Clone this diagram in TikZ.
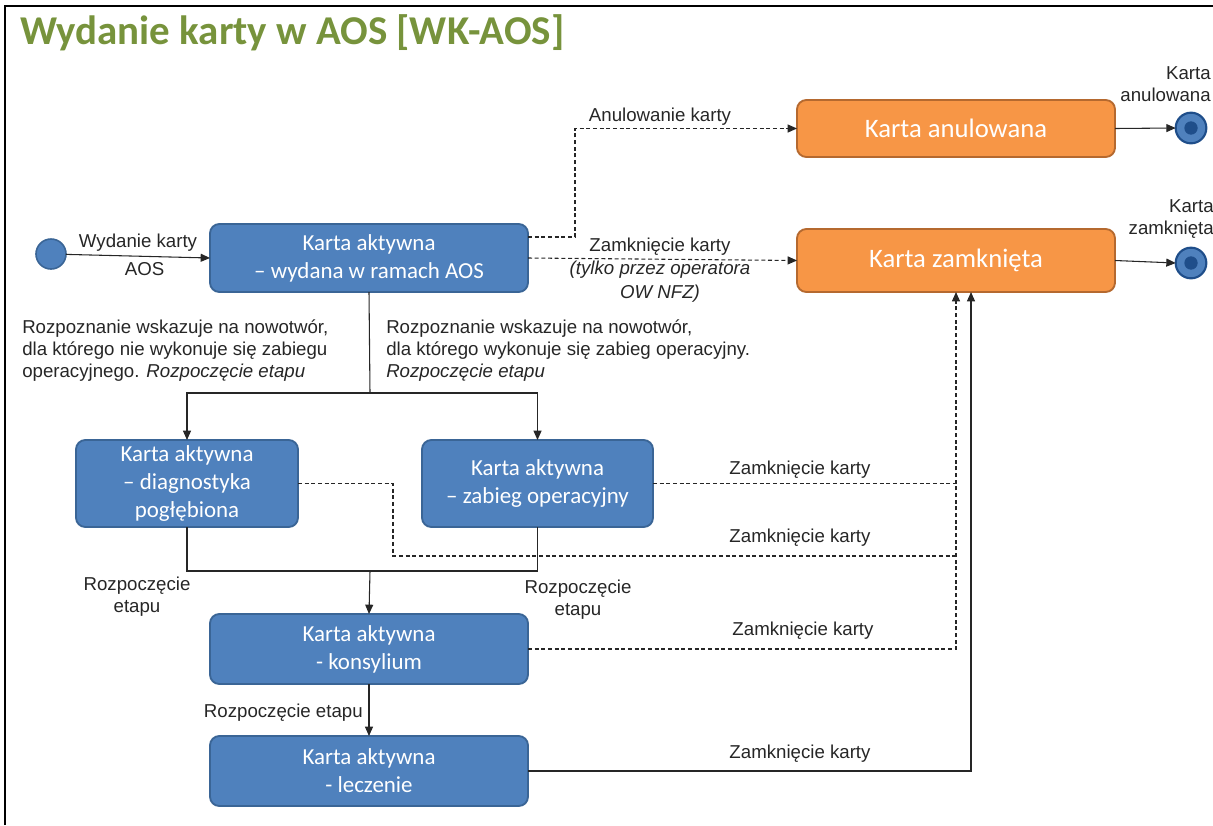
\documentclass[tikz,border=0pt]{standalone}
\usepackage{fontspec}
\setmainfont{Liberation Sans}
\newfontfamily\boxfont{Carlito}
\usetikzlibrary{calc,arrows.meta}
\definecolor{bfill}{HTML}{4F81BD}
\definecolor{bdraw}{HTML}{3A6596}
\definecolor{ofill}{HTML}{F79646}
\definecolor{odraw}{HTML}{B5692F}
\definecolor{ttl}{HTML}{77933C}
\definecolor{ln}{HTML}{262626}
\definecolor{enddark}{HTML}{1F4E8A}
\tikzset{
  bluebox/.style={rounded corners=7pt, fill=bfill, draw=bdraw, line width=1.4pt,
    text=white, font=\boxfont\fontsize{17.2}{21}\selectfont, align=center,
    minimum width=238.5pt, outer sep=0pt, inner sep=0pt},
  orangebox/.style={bluebox, fill=ofill, draw=odraw, font=\boxfont\fontsize{20}{24}\selectfont},
  lbl/.style={font=\fontsize{14}{16.5}\selectfont, text=black!85, inner sep=0pt},
  conn/.style={draw=ln, line width=0.8pt},
  arr/.style={conn, -{Triangle[length=7pt,width=6pt]}},
  dashconn/.style={conn, dash pattern=on 3pt off 2pt},
  dasharr/.style={arr, dash pattern=on 3pt off 2pt},
  startc/.style={circle, fill=bfill, draw=bdraw, line width=1.2pt, minimum size=22.5pt, inner sep=0pt, outer sep=0pt},
  endc/.style={circle, fill=bfill, draw=enddark, line width=1.6pt, minimum size=23pt, inner sep=0pt, outer sep=0pt},
}
\begin{document}
\begin{tikzpicture}[x=0.75pt,y=-0.75pt]
\useasboundingbox (0,0) rectangle (1213,825);
% frame
\draw[line width=1.5pt] (5,825) -- (5,6) -- (1213,6);
% title
\node[anchor=west, text=ttl, font=\boxfont\bfseries\fontsize{30.7}{36}\selectfont, inner sep=0pt] (title) at (20,33) {Wydanie karty w AOS [WK-AOS]};

% nodes
\node[startc] (st) at (51,254) {};
\node[bluebox, minimum height=51pt] (A) at (369,258) {Karta aktywna\\– wydana w ramach AOS};
\node[orangebox, minimum height=42.75pt] (anul) at (956,128.5) {Karta anulowana};
\node[orangebox, minimum height=47.25pt] (zamk) at (956,260.5) {Karta zamknięta};
\node[endc] (e1) at (1191,128) {};
\fill[enddark] (e1.center) circle (5pt);
\node[endc] (e2) at (1191,263) {};
\fill[enddark] (e2.center) circle (5pt);
\node[bluebox, minimum width=166.5pt, minimum height=65.25pt] (diag) at (187,483.5) {Karta aktywna\\– diagnostyka\\pogłębiona};
\node[bluebox, minimum width=173.25pt, minimum height=65.25pt] (zab) at (537.5,483.5) {Karta aktywna\\– zabieg operacyjny};
\node[bluebox, minimum height=52.5pt] (kons) at (369,649) {Karta aktywna\\- konsylium};
\node[bluebox, minimum height=52.5pt] (lecz) at (369,771) {Karta aktywna\\- leczenie};

% coordinates
\coordinate (s1) at (370,393);
\coordinate (m1) at (370,571);
\coordinate (c1) at (956,556);
\coordinate (zs2) at ($(zamk.south)+(15,0)$);

% connectors
\draw[arr] (st) -- node[lbl, above=3pt]{Wydanie karty} node[lbl, below=4pt, xshift=5pt]{AOS} (A.west);
\draw[dasharr] ($(A.east)+(0,-21)$) -- ++(47,0) |- (anul.west);
\draw[dasharr] (A.east) -- (zamk.west);
\draw[arr] (anul.east) -- (e1.west);
\draw[arr] (zamk.east) -- (e2.west);

\draw[conn] (A.south) -- (s1);
\draw[arr] (s1) -| (diag.north);
\draw[arr] (s1) -| (zab.north);

\draw[conn] (diag.south) |- (zab.south |- m1) -- (zab.south);
\draw[arr] (m1) -- (kons.north);
\draw[arr] (kons.south) -- (lecz.north);

\draw[dashconn] (zab.east) -- (zab.east -| zamk.south);
\draw[dashconn] (diag.east) -- ++(95,0) |- (c1);
\draw[dasharr] (kons.east) -| (zamk.south);
\draw[arr] (lecz.east) -| (zs2);

% labels
\node[lbl] (l1) at (660,117) {Anulowanie karty};
\node[lbl, align=center, font=\fontsize{14}{17.8}\selectfont] (l2) at (660,270) {Zamknięcie karty\\\textit{(tylko przez operatora}\\\textit{OW NFZ)}};
\node[lbl, align=right, anchor=east] (l3) at (1211,84) {Karta\\anulowana};
\node[lbl, align=right, anchor=east] (l4) at (1214,219) {Karta\\zamknięta};
\node[lbl, align=left, anchor=north west] (l5) at (22,319) {Rozpoznanie wskazuje na nowotwór,\\dla którego nie wykonuje się zabiegu\\operacyjnego. \textit{Rozpoczęcie etapu}};
\node[lbl, align=left, anchor=north west] (l6) at (386,319) {Rozpoznanie wskazuje na nowotwór,\\dla którego wykonuje się zabieg operacyjny.\\\textit{Rozpoczęcie etapu}};
\node[lbl, align=center] (l7) at (137,597) {Rozpoczęcie\\etapu};
\node[lbl, align=center] (l8) at (578,600) {Rozpoczęcie\\etapu};
\node[lbl, anchor=east] (l9) at (363,713) {Rozpoczęcie etapu};
\node[lbl] (z1) at (800,470) {Zamknięcie karty};
\node[lbl] (z2) at (800,538) {Zamknięcie karty};
\node[lbl] (z3) at (803,631) {Zamknięcie karty};
\node[lbl] (z4) at (800,754) {Zamknięcie karty};
\end{tikzpicture}
\end{document}
